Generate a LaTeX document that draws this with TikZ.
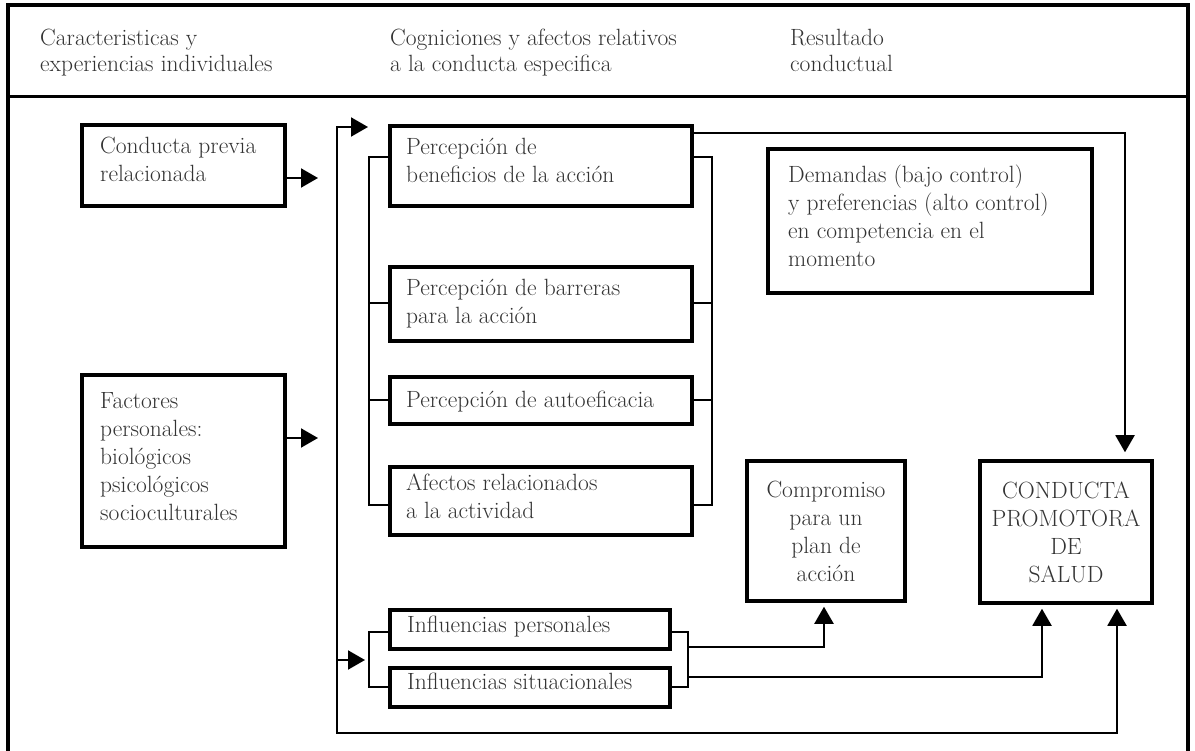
\documentclass[tikz,border=0pt]{standalone}
\usetikzlibrary{arrows.meta,fit}
\begin{document}
\begin{tikzpicture}[x=1pt,y=-1pt,
  cbox/.style={draw, line width=3.5pt, inner sep=0pt},
  txt/.style={anchor=north west, inner sep=0pt, align=left, text=black!80, font=\fontsize{23.5}{28}\selectfont},
  htxt/.style={anchor=north west, inner sep=0pt, align=left, text=black!80, font=\fontsize{23.5}{26}\selectfont},
  ctxt/.style={anchor=center, inner sep=0pt, align=center, text=black!80, font=\fontsize{23.5}{28}\selectfont},
  ln/.style={line width=2pt},
  brk/.style={line width=2.5pt},
  arr/.style={-{Triangle[length=17pt,width=19pt]}, line width=2pt}]
\useasboundingbox (0,0) rectangle (1195,751);
\fill[white] (0,0) rectangle (1195,751);
% frame and header
\draw[line width=3.5pt] (8,760) -- (8,5) -- (1188,5) -- (1188,760);
\draw[line width=3pt] (8,97) -- (1188,97);
\node[htxt] (h1) at (40,29) {Caracteristicas y\\experiencias individuales};
\node[htxt] (h2) at (390,29) {Cogniciones y afectos relativos\\a la conducta especifica};
\node[htxt] (h3) at (790,29) {Resultado\\conductual};
% boxes
\node[cbox, fit={(82,125) (285,206)}] (prev) {};
\node[cbox, fit={(82,375) (285,547)}] (fact) {};
\node[cbox, fit={(390,126) (692,206)}] (ben) {};
\node[cbox, fit={(390,267) (692,341)}] (bar) {};
\node[cbox, fit={(390,377) (692,424)}] (auto) {};
\node[cbox, fit={(390,467) (692,535)}] (afe) {};
\node[cbox, fit={(768,149) (1092,293)}] (dem) {};
\node[cbox, fit={(390,610) (670,649)}] (ipers) {};
\node[cbox, fit={(390,668) (670,707)}] (isit) {};
\node[cbox, fit={(747,461) (905,601)}] (comp) {};
\node[cbox, fit={(980,461) (1152,603)}] (cps) {};
% texts
\node[txt] (tprev) at (100,137) {Conducta previa\\relacionada};
\node[txt] (tfact) at (100,392) {Factores\\personales:\\biológicos\\psicológicos\\socioculturales};
\node[txt] (tben) at (406,138) {Percepción de\\beneficios de la acción};
\node[txt] (tbar) at (406,279) {Percepción de barreras\\para la acción};
\node[txt] (tauto) at (406,391) {Percepción de autoeficacia};
\node[txt] (tafe) at (406,474) {Afectos relacionados\\a la actividad};
\node[txt] (tdem) at (788,165) {Demandas (bajo control)\\y preferencias (alto control)\\en competencia en el\\momento};
\node[txt] (tipers) at (407,616) {Influencias personales};
\node[txt] (tisit) at (407,673) {Influencias situacionales};
\node[ctxt] (tcomp) at (comp.center) {Compromiso\\para un\\plan de\\acción};
\node[ctxt] (tcps) at (cps.center) {CONDUCTA\\PROMOTORA\\DE\\SALUD};
% free ends
\coordinate (prevtip) at (318,178);
\coordinate (facttip) at (318,438);
% arrows from left boxes
\draw[arr] (prev.east |- prevtip) -- (prevtip);
\draw[arr] (fact.east |- facttip) -- (facttip);
% left bracket of cognitions
\coordinate (lb1) at (369,157);
\coordinate (lb2) at (369,303);
\coordinate (lb3) at (369,400);
\coordinate (lb4) at (369,505);
\draw[brk] (ben.west |- lb1) -- (lb1) -- (lb4) -- (afe.west |- lb4);
\draw[brk] (lb2) -- (bar.west |- lb2);
\draw[brk] (lb3) -- (auto.west |- lb3);
% right bracket
\coordinate (rb1) at (712,157);
\coordinate (rb2) at (712,303);
\coordinate (rb3) at (712,400);
\coordinate (rb4) at (712,505);
\draw[brk] (ben.east |- rb1) -- (rb1) -- (rb4) -- (afe.east |- rb4);
\draw[brk] (rb2) -- (bar.east |- rb2);
\draw[brk] (rb3) -- (auto.east |- rb3);
% long line from benefits to conducta
\coordinate (c1) at (1125,133);
\draw[arr, shorten >=7pt] (ben.east |- c1) -- (c1) -- (cps.north -| c1);
% influences brackets
\coordinate (il1) at (369,632);
\coordinate (il2) at (369,687);
\coordinate (ir1) at (688,632);
\coordinate (ir2) at (688,687);
\draw[brk] (ipers.west |- il1) -- (il1) -- (il2) -- (isit.west |- il2);
\draw[brk] (ipers.east |- ir1) -- (ir1) -- (ir2) -- (isit.east |- ir2);
\coordinate (o1) at (688,647);
\coordinate (o2) at (688,677);
\coordinate (k1) at (824,647);
\coordinate (k2) at (1042,677);
\draw[arr, shorten >=4pt] (o1) -- (k1) -- (comp.south -| k1);
\draw[arr, shorten >=4pt] (o2) -- (k2) -- (cps.south -| k2);
% feedback loop
\coordinate (lt) at (368,127);
\coordinate (l1) at (337,127);
\coordinate (l2) at (337,733);
\coordinate (l3) at (1117,733);
\draw[ln, {Triangle[length=17pt,width=19pt]}-{Triangle[length=17pt,width=19pt]}, shorten >=4pt] (lt) -- (l1) -- (l2) -- (l3) -- (cps.south -| l3);
\coordinate (li) at (337,660);
\coordinate (litip) at (365,660);
\draw[arr] (li) -- (litip);
\end{tikzpicture}
\end{document}
